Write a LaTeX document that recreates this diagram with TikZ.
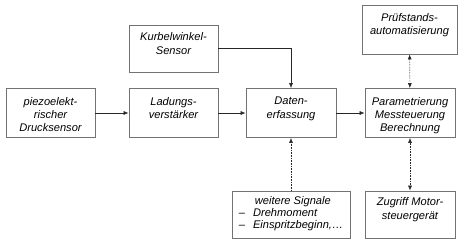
\documentclass[tikz,border=0pt]{standalone}
\usepackage{fontspec}
\setmainfont{Liberation Sans}
\usetikzlibrary{arrows.meta}
\begin{document}
\begin{tikzpicture}[x=1pt,y=-1pt,
		blockbox/.style={draw=black!55,line width=.8pt,minimum width=90pt,minimum height=49pt,inner sep=0pt},
		boxtext/.style={anchor=north,yshift=#1,inner sep=0pt,align=center,font=\itshape\fontsize{11.1}{13.3}\selectfont},
		boxtext/.default=-9pt,
		flow/.style={-{Latex[length=5pt,width=4pt]},line width=.6pt,black!85},
		aux/.style={flow,densely dotted},
		both/.style={aux,{Latex[length=5pt,width=4pt]}-{Latex[length=5pt,width=4pt]}}]
	\useasboundingbox (0,0) rectangle (462,244);
	% Main signal chain
	\node[blockbox,minimum width=89pt] (piezo) at (50.5,113) {};
	\node[boxtext] (piezo-t) at (piezo.north) {piezoelekt-\\rischer\\Drucksensor};
	\node[blockbox,minimum width=89pt] (ladung) at (173.5,113) {};
	\node[boxtext] (ladung-t) at (ladung.north) {Ladungs-\\verst\"arker};
	\node[blockbox] (daten) at (291,113) {};
	\node[boxtext] (daten-t) at (daten.north) {Daten-\\erfassung};
	\node[blockbox] (param) at (410,113) {};
	\node[boxtext] (param-t) at (param.north) {Parametrierung\\Messteuerung\\Berechnung};
	% Side inputs
	\node[blockbox,minimum width=89pt,minimum height=47pt] (kurbel) at (173.5,48.5) {};
	\node[boxtext=-8pt] (kurbel-t) at (kurbel.north) {Kurbelwinkel-\\Sensor};
	\node[blockbox,minimum width=95pt] (pruef) at (409.5,29.5) {};
	\node[boxtext=-8.5pt] (pruef-t) at (pruef.north) {Pr\"ufstands-\\automatisierung};
	\node[blockbox,minimum width=118pt,minimum height=47pt] (signale) at (291,214.5) {};
	\node[boxtext=-6pt,align=left,font=\itshape\fontsize{11.1}{11.7}\selectfont] (signale-t) at (signale.north)
		{\hspace*{16pt}weitere Signale\\--\hspace{8pt}Drehmoment\\--\hspace{8pt}Einspritzbeginn,\dots};
	\node[blockbox,minimum height=47pt] (zugriff) at (410,214.5) {};
	\node[boxtext=-7pt] (zugriff-t) at (zugriff.north) {Zugriff Motor-\\steuerger\"at};
	% Arrows between the blocks
	\draw[flow] (piezo) -- (ladung);
	\draw[flow] (ladung) -- (daten);
	\draw[flow] (daten) -- (param);
	\draw[flow] (kurbel.east) -| (daten.north);
	\draw[aux] (signale.north) -- (daten.south);
	\draw[both] (pruef) -- (param);
	\draw[both] (param) -- (zugriff);
\end{tikzpicture}
\end{document}
